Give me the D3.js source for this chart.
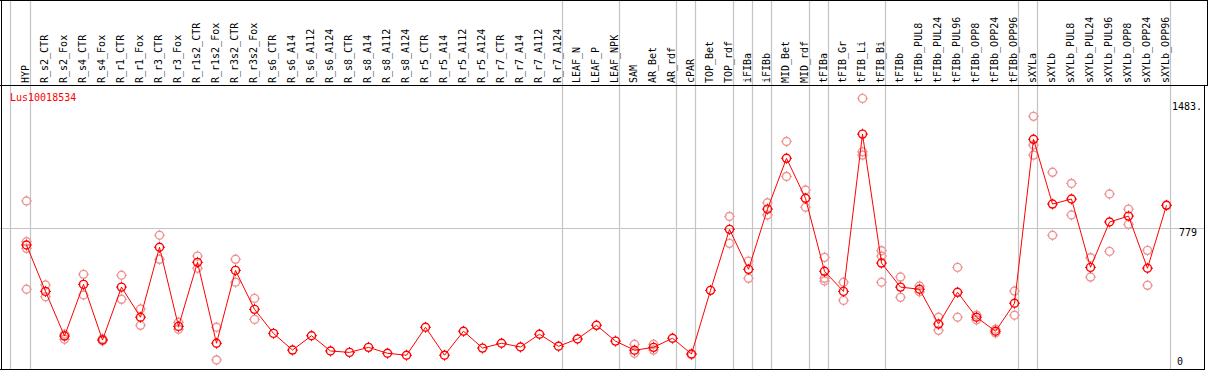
<!DOCTYPE html>
<html>
<head>
<meta charset="utf-8">
<script src="https://cdn.jsdelivr.net/npm/d3@7"></script>
<style>
  body { margin: 0; background: #fff; }
  text { font-family: "DejaVu Sans Mono", monospace; font-size: 10px; }
</style>
</head>
<body>
<div class="demo"></div>
<script>
(function() {
    var columns = ["HYP", "R_s2_CTR", "R_s2_Fox", "R_s4_CTR", "R_s4_Fox", "R_r1_CTR", "R_r1_Fox",
        "R_r3_CTR", "R_r3_Fox", "R_r1s2_CTR", "R_r1s2_Fox", "R_r3s2_CTR", "R_r3s2_Fox",
        "R_s6_CTR", "R_s6_A14", "R_s6_A112", "R_s6_A124", "R_s8_CTR", "R_s8_A14", "R_s8_A112",
        "R_s8_A124", "R_r5_CTR", "R_r5_A14", "R_r5_A112", "R_r5_A124", "R_r7_CTR", "R_r7_A14",
        "R_r7_A112", "R_r7_A124", "LEAF_N", "LEAF_P", "LEAF_NPK", "SAM", "AR_Bet", "AR_rdf",
        "cPAR", "TOP_Bet", "TOP_rdf", "iFIBa", "iFIBb", "MID_Bet", "MID_rdf", "tFIBa",
        "tFIB_Gr", "tFIB_Li", "tFIB_Bi", "tFIBb", "tFIBb_PUL8", "tFIBb_PUL24", "tFIBb_PUL96",
        "tFIBb_OPP8", "tFIBb_OPP24", "tFIBb_OPP96", "sXYLa", "sXYLb", "sXYLb_PUL8",
        "sXYLb_PUL24", "sXYLb_PUL96", "sXYLb_OPP8", "sXYLb_OPP24", "sXYLb_OPP96"];

    // mean expression per sample
    var means = [686, 427, 178, 466, 156, 451, 283, 673, 232, 589, 138, 544, 327,
        193, 100, 180, 95, 87, 115, 82, 71, 227, 71, 205, 111, 138, 117, 188, 121,
        162, 238, 150, 99, 115, 166, 78, 433, 773, 550, 886, 1169, 946, 539,
        427, 1304, 585, 451, 439, 245, 422, 283, 205, 361, 1275, 914, 942,
        561, 814, 847, 556, 907];

    // individual replicates (only the ones that show apart from the mean)
    var replicates = [[931, 704, 667, 439], [463, 397], [188, 160], [522, 407], [152, 162],
        [517, 383], [329, 238], [740, 606], [255, 216], [624, 556], [227, 45], [606, 478],
        [388, 271], [], [], [], [], [], [], [], [], [], [], [], [], [], [], [], [],
        [], [], [], [132, 82], [132, 100], [], [74], [], [845, 695], [596, 500], [921, 853],
        [1263, 1068], [992, 896], [617, 500, 485], [478, 377], [1503, 1205, 1187],
        [654, 624, 478], [507, 394], [457, 425], [283, 210], [561, 283], [295, 268],
        [216, 195], [429, 294], [1403, 1243, 1187], [1091, 740], [1029, 853], [615, 507],
        [970, 650], [886, 801], [656, 461], [907]];

    // sample after which a group separator is drawn
    var groupEnds = ["HYP", "R_r7_A124", "LEAF_NPK", "AR_rdf", "cPAR", "TOP_rdf", "iFIBa",
        "iFIBb", "MID_rdf", "tFIBa", "tFIB_Bi", "tFIBb_OPP96", "sXYLa", "sXYLb_OPP96"];

    var tickValues = [0, 779, 1483];
    var tickLabels = ["0", "779", "1483."];
    var geneName = "Lus10018534";

    var width = 1209,
        height = 370,
        headerBottom = 85,
        plotBottom = 369,
        plotRight = 1204;

    var svg = d3.select(".demo").append("svg")
        .attr("width", width)
        .attr("height", height);

    var x = d3.scaleBand()
        .domain(columns)
        .range([17, 17 + 19 * columns.length]);
    function cx(c) { return x(c) + x.bandwidth() / 2; }

    var y = d3.scaleLinear()
        .domain([0, 1483])
        .range([368, 102]);

    svg.append("clipPath").attr("id", "plotclip")
        .append("rect")
        .attr("x", 0).attr("y", headerBottom)
        .attr("width", plotRight).attr("height", plotBottom - headerBottom);

    // separators
    var sepX = [Math.floor(cx(columns[0]) - 16) + 0.5].concat(groupEnds.map(function(c) {
        return Math.floor(cx(c) + 4) + 0.5;
    }));
    svg.selectAll("line.sep")
        .data(sepX)
        .enter().append("line")
        .attr("class", "sep")
        .attr("x1", function(d) { return d; })
        .attr("x2", function(d) { return d; })
        .attr("y1", 0)
        .attr("y2", plotBottom)
        .attr("stroke", "#c4c4c4")
        .attr("stroke-width", 1.2);

    // grid line at the middle tick
    svg.append("line")
        .attr("x1", 0).attr("x2", plotRight)
        .attr("y1", Math.round(y(779)) + 0.5)
        .attr("y2", Math.round(y(779)) + 0.5)
        .attr("stroke", "#c4c4c4")
        .attr("stroke-width", 1.2);

    // frame
    svg.append("line").attr("x1", 0).attr("x2", 1208).attr("y1", 0.5).attr("y2", 0.5)
        .attr("stroke", "#000");
    svg.append("line").attr("x1", 0).attr("x2", 1208).attr("y1", headerBottom + 0.5).attr("y2", headerBottom + 0.5)
        .attr("stroke", "#000");
    svg.append("line").attr("x1", 1.5).attr("x2", 1.5).attr("y1", 0).attr("y2", plotBottom + 1)
        .attr("stroke", "#000");
    svg.append("line").attr("x1", 0).attr("x2", plotRight).attr("y1", plotBottom + 0.5).attr("y2", plotBottom + 0.5)
        .attr("stroke", "#000");
    svg.append("line").attr("x1", 1207.5).attr("x2", 1207.5).attr("y1", 0).attr("y2", headerBottom)
        .attr("stroke", "#000");
    svg.append("line").attr("x1", plotRight + 0.5).attr("x2", plotRight + 0.5).attr("y1", headerBottom).attr("y2", plotBottom + 1)
        .attr("stroke", "#000");

    // column labels
    svg.selectAll("text.col")
        .data(columns)
        .enter().append("text")
        .attr("class", "col")
        .attr("transform", function(d) {
            return "translate(" + (cx(d) - 1) + "," + (headerBottom - 2) + ") rotate(-90)";
        })
        .attr("dy", "0.35em")
        .attr("fill", "#000")
        .text(function(d) { return d; });

    // axis labels on the right
    svg.selectAll("text.tick")
        .data(tickValues)
        .enter().append("text")
        .attr("class", "tick")
        .attr("clip-path", "url(#plotclip)")
        .attr("x", function(d, i) { return [1177, 1179, 1172][i]; })
        .attr("y", function(d) { return Math.min(y(d) + 8, 365); })
        .attr("fill", "#000")
        .text(function(d, i) { return tickLabels[i]; });

    svg.append("text")
        .attr("x", 10)
        .attr("y", 101)
        .attr("fill", "#ff0000")
        .text(geneName);

    function marker(g, color) {
        g.append("circle")
            .attr("r", 4)
            .attr("fill", "none")
            .attr("stroke", color)
            .attr("stroke-width", 1.4);
        [[0, -4, 0, -5.5], [0, 4, 0, 5.5], [-4, 0, -5.5, 0], [4, 0, 5.5, 0]].forEach(function(t) {
            g.append("line")
                .attr("x1", t[0]).attr("y1", t[1])
                .attr("x2", t[2]).attr("y2", t[3])
                .attr("stroke", color)
                .attr("stroke-width", 1);
        });
    }

    // replicates
    var reps = [];
    columns.forEach(function(c, i) {
        replicates[i].forEach(function(v) { reps.push({ c: c, v: v }); });
    });
    svg.selectAll("g.rep")
        .data(reps)
        .enter().append("g")
        .attr("class", "rep")
        .attr("transform", function(d) { return "translate(" + cx(d.c) + "," + y(d.v) + ")"; })
        .each(function() { marker(d3.select(this), "#ee9494"); });

    // mean line
    var line = d3.line()
        .x(function(d, i) { return cx(columns[i]); })
        .y(function(d) { return y(d); });
    svg.append("path")
        .datum(means)
        .attr("d", line)
        .attr("fill", "none")
        .attr("stroke", "#ff0000")
        .attr("stroke-width", 1);

    svg.selectAll("g.mean")
        .data(means)
        .enter().append("g")
        .attr("class", "mean")
        .attr("transform", function(d, i) { return "translate(" + cx(columns[i]) + "," + y(d) + ")"; })
        .each(function() { marker(d3.select(this), "#ff0000"); });
})();
</script>
</body>
</html>
